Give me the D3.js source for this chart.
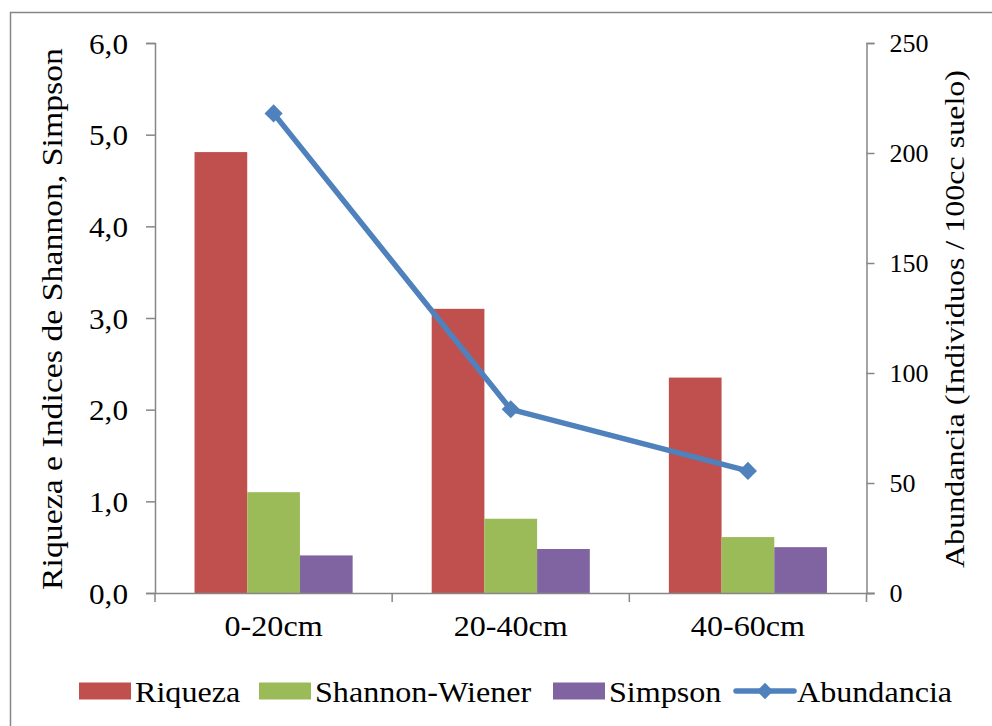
<!DOCTYPE html>
<html>
<head>
<meta charset="utf-8">
<script src="https://cdn.jsdelivr.net/npm/d3@7"></script>
<style>
  html, body { margin: 0; padding: 0; background: #fff; }
  svg { display: block; }
  text { font-family: "Liberation Serif", "Times New Roman", serif; fill: #000; }
</style>
</head>
<body>
<svg id="chart" width="992" height="726"></svg>
<script>
// Depth classes
const categories = ["0-20cm", "20-40cm", "40-60cm"];
// Diversity indices (left axis)
const riqueza = [4.81, 3.10, 2.35];
const shannon = [1.10, 0.81, 0.61];
const simpson = [0.41, 0.48, 0.50];
// Abundance, individuals per 100cc of soil (right axis)
const abundancia = [218, 83.5, 55.5];

const leftTicks = [0, 1, 2, 3, 4, 5, 6];
const rightTicks = [0, 50, 100, 150, 200, 250];

const barSeries = [
  { name: "Riqueza", values: riqueza, color: "#C0504D" },
  { name: "Shannon-Wiener", values: shannon, color: "#9BBB59" },
  { name: "Simpson", values: simpson, color: "#8064A2" }
];
const lineColor = "#4F81BD";
const axisColor = "#868686";
const serif = '"Liberation Serif", "Times New Roman", serif';

const svg = d3.select("#chart");
const plot = { left: 155, right: 866.5, top: 43, bottom: 593 };

// Widen a text element's glyphs by a factor
function stretch(sel, k) {
  sel.each(function () {
    const w = this.getComputedTextLength();
    d3.select(this).attr("textLength", w * k).attr("lengthAdjust", "spacingAndGlyphs");
  });
}

// Outer chart frame
svg.append("rect")
  .attr("x", 10.5).attr("y", 12.5)
  .attr("width", 1000).attr("height", 800)
  .attr("fill", "none").attr("stroke", axisColor).attr("stroke-width", 1.5);

const x = d3.scaleBand().domain(categories).range([plot.left, plot.right]);
const xInner = d3.scaleBand()
  .domain(barSeries.map(s => s.name))
  .range([0, x.bandwidth()])
  .paddingInner(0).paddingOuter(0.75);
const yL = d3.scaleLinear().domain([0, 6]).range([plot.bottom, plot.top]);
const yR = d3.scaleLinear().domain([0, 250]).range([plot.bottom, plot.top]);

// Bars
barSeries.forEach(s => {
  svg.append("g").selectAll("rect")
    .data(categories)
    .join("rect")
    .attr("x", (c) => x(c) + xInner(s.name))
    .attr("width", xInner.bandwidth())
    .attr("y", (c, i) => yL(s.values[i]))
    .attr("height", (c, i) => plot.bottom - yL(s.values[i]))
    .attr("fill", s.color);
});

// Left axis
const axL = svg.append("g")
  .attr("transform", `translate(${plot.left},0)`)
  .call(d3.axisLeft(yL).tickValues(leftTicks).tickSize(9).tickPadding(18)
    .tickFormat(d => d3.format(".1f")(d).replace(".", ",")));
axL.selectAll("text").style("font-size", "30px").attr("dy", "0.34em");

// Right axis
const axR = svg.append("g")
  .attr("transform", `translate(${plot.right},0)`)
  .call(d3.axisRight(yR).tickValues(rightTicks).tickSize(8).tickPadding(15));
axR.selectAll("text").style("font-size", "25px").attr("dy", "0.34em");

// Category axis
const axB = svg.append("g")
  .attr("transform", `translate(0,${plot.bottom})`)
  .call(d3.axisBottom(x).tickSize(0).tickPadding(22));
axB.selectAll("text").style("font-size", "30px").attr("dy", "0.71em");
axB.selectAll(".tick line").remove();
// Category boundary ticks
const bounds = categories.map(c => x(c)).concat([x(categories[categories.length - 1]) + x.bandwidth()]);
axB.selectAll("line.sep").data(bounds).join("line")
  .attr("class", "sep")
  .attr("x1", d => d).attr("x2", d => d)
  .attr("y1", 0).attr("y2", 9)
  .attr("stroke", axisColor).attr("stroke-width", 1.5);

[axL, axR, axB].forEach(g => {
  g.select(".domain").attr("stroke", axisColor).attr("stroke-width", 1.5);
  g.selectAll(".tick line").attr("stroke", axisColor).attr("stroke-width", 1.5);
  g.selectAll("text").style("font-family", serif).attr("fill", "#000");
});
axB.select(".domain").attr("d", `M${plot.left},0.5H${plot.right + 8}`);
stretch(axB.selectAll("text"), 1.07);
stretch(axL.selectAll("text"), 1.04);
stretch(axR.selectAll("text"), 1.04);

// Axis titles
svg.append("text")
  .attr("transform", `translate(62,${(plot.top + plot.bottom) / 2 + 1}) rotate(-90)`)
  .attr("text-anchor", "middle")
  .style("font-size", "29px")
  .attr("textLength", 542).attr("lengthAdjust", "spacingAndGlyphs")
  .text("Riqueza e Indices de Shannon, Simpson");
svg.append("text")
  .attr("transform", `translate(964,${(plot.top + plot.bottom) / 2 + 1}) rotate(-90)`)
  .attr("text-anchor", "middle")
  .style("font-size", "27px")
  .attr("textLength", 498).attr("lengthAdjust", "spacingAndGlyphs")
  .text("Abundancia (Individuos / 100cc suelo)");

// Abundance line with diamond markers
const cx = c => x(c) + x.bandwidth() / 2;
const line = d3.line().x((d, i) => cx(categories[i])).y(d => yR(d));
svg.append("path")
  .datum(abundancia)
  .attr("d", line)
  .attr("fill", "none").attr("stroke", lineColor)
  .attr("stroke-width", 5.5).attr("stroke-linejoin", "round");
const diamond = d3.symbol().type(d3.symbolDiamond2).size(210);
svg.append("g").selectAll("path")
  .data(abundancia)
  .join("path")
  .attr("transform", (d, i) => `translate(${cx(categories[i])},${yR(d)})`)
  .attr("d", diamond)
  .attr("fill", lineColor);

// Legend
const legendY = 691;
const legendItems = [
  { name: "Riqueza", type: "rect", color: barSeries[0].color, x: 79 },
  { name: "Shannon-Wiener", type: "rect", color: barSeries[1].color, x: 259 },
  { name: "Simpson", type: "rect", color: barSeries[2].color, x: 553 },
  { name: "Abundancia", type: "line", color: lineColor, x: 736 }
];
const lg = svg.append("g");
legendItems.forEach(it => {
  if (it.type === "rect") {
    lg.append("rect").attr("x", it.x).attr("y", legendY - 8.5)
      .attr("width", 52).attr("height", 17).attr("fill", it.color);
  } else {
    lg.append("line").attr("x1", it.x).attr("x2", it.x + 58)
      .attr("y1", legendY).attr("y2", legendY)
      .attr("stroke", it.color).attr("stroke-width", 5.5).attr("stroke-linecap", "round");
    lg.append("path").attr("transform", `translate(${it.x + 29},${legendY})`)
      .attr("d", d3.symbol().type(d3.symbolDiamond2).size(170)).attr("fill", it.color);
  }
  lg.append("text")
    .attr("x", it.x + (it.type === "rect" ? 56 : 61))
    .attr("y", legendY).attr("dy", "0.35em")
    .style("font-size", "30px")
    .text(it.name);
});
stretch(lg.selectAll("text"), 1.07);
</script>
</body>
</html>
